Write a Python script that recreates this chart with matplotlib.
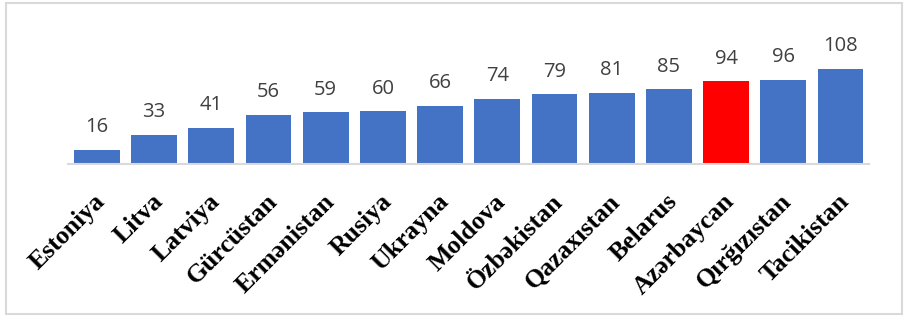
import matplotlib.pyplot as plt
import matplotlib.transforms as mtransforms
from matplotlib.patches import Rectangle

# Data
countries = ['Estoniya', 'Litva', 'Latviya', 'Gürcüstan', 'Ermənistan', 'Rusiya', 'Ukrayna',
             'Moldova', 'Özbəkistan', 'Qazaxıstan', 'Belarus', 'Azərbaycan', 'Qırğızıstan', 'Tacikistan']
values = [16, 33, 41, 56, 59, 60, 66, 74, 79, 81, 85, 94, 96, 108]
highlight = 'Azərbaycan'

colors = ['#FF0000' if c == highlight else '#4472C4' for c in countries]

fig = plt.figure(figsize=(9.05, 3.16), dpi=100)
ax = fig.add_axes([68.4 / 905, 1 - 164 / 316, (869 - 68.4) / 905, 144 / 316])

x = range(len(countries))
bars = ax.bar(x, values, width=0.8, color=colors)

ax.set_xlim(-0.5, len(countries) - 0.5)
ax.set_ylim(0, 144 / 0.88)

# value labels above bars
for bar in bars:
    ax.annotate(str(int(bar.get_height())),
                (bar.get_x() + bar.get_width() / 2, bar.get_height()),
                xytext=(0, 9), textcoords='offset points',
                ha='center', va='bottom', fontsize=14.5, color='#404040', family='Open Sans')

# rotated category labels
ax.set_xticks([])
ax.set_yticks([])
for i, name in enumerate(countries):
    trans = ax.get_xaxis_transform() + mtransforms.ScaledTranslation(13 / 100, -26 / 100, fig.dpi_scale_trans)
    ax.text(i, 0, name, transform=trans, rotation=45, ha='right', va='top',
            fontsize=18.5, fontweight='bold', family='Liberation Serif', color='black')

for side in ['left', 'right', 'top']:
    ax.spines[side].set_visible(False)
ax.spines['bottom'].set_color('#d9d9d9')
ax.spines['bottom'].set_linewidth(1.5)

# light frame around the chart area
fig.patches.append(Rectangle((6 / 905, 2 / 316), 896 / 905, 311 / 316, transform=fig.transFigure,
                             fill=False, edgecolor='#d9d9d9', linewidth=1.5))

fig.savefig('out.png', dpi=100)
